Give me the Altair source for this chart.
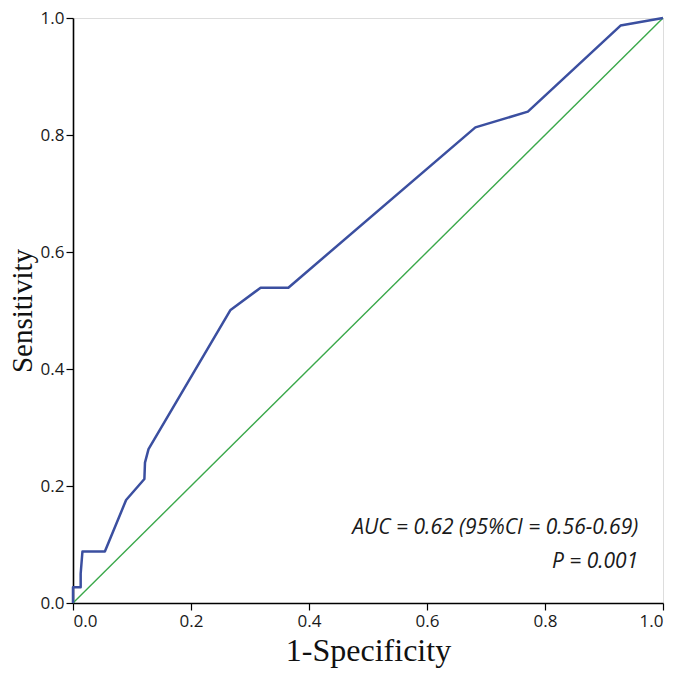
import altair as alt
import pandas as pd

fpr = [0.0, 0.0, 0.013, 0.013, 0.016, 0.054, 0.090, 0.121, 0.122, 0.128, 0.267, 0.318, 0.365, 0.682, 0.771, 0.928, 1.0]
tpr = [0.0, 0.027, 0.027, 0.050, 0.088, 0.088, 0.176, 0.212, 0.240, 0.263, 0.501, 0.539, 0.539, 0.813, 0.840, 0.987, 1.0]
diag_x = [0.0, 1.0]
diag_y = [0.0, 1.0]
ticks = [0.0, 0.2, 0.4, 0.6, 0.8, 1.0]
ann_text = ["AUC = 0.62 (95%CI = 0.56-0.69)", "P = 0.001"]
ann_x = [0.958, 0.958]
ann_y = [0.128, 0.070]

roc = pd.DataFrame({"fpr": fpr, "tpr": tpr, "order": list(range(len(fpr)))})
diag = pd.DataFrame({"fpr": diag_x, "tpr": diag_y})
ann = pd.DataFrame({"x": ann_x, "y": ann_y, "t": ann_text})

xs = alt.Scale(domain=[0, 1], nice=False, zero=False)
ys = alt.Scale(domain=[0, 1], nice=False, zero=False)

common = dict(values=ticks, format=".1f", grid=False,
              domainColor="#000", domainWidth=1.6, tickColor="#000", tickWidth=1.2,
              tickSize=7, labelFont="Open Sans", labelFontSize=17, labelColor="#1a1a1a",
              titleFont="Liberation Serif",
              titleFontWeight="normal", titleColor="#111")
xaxis = alt.Axis(title="1-Specificity", labelPadding=3, titlePadding=6, titleFontSize=32, **common)
yaxis = alt.Axis(title="Sensitivity", labelPadding=2, titlePadding=3, titleFontSize=29, **common)

diag_layer = alt.Chart(diag).mark_line(color="#3aa84a", strokeWidth=1.4).encode(
    x=alt.X("fpr:Q", scale=xs, axis=xaxis),
    y=alt.Y("tpr:Q", scale=ys, axis=yaxis),
)
roc_layer = alt.Chart(roc).mark_line(color="#3b4fa0", strokeWidth=2.5, strokeJoin="round").encode(
    x=alt.X("fpr:Q", scale=xs),
    y=alt.Y("tpr:Q", scale=ys),
    order="order:Q",
)
text_layer = alt.Chart(ann).mark_text(align="right", baseline="middle", font="Open Sans",
                                      fontSize=21, fontStyle="italic", color="#1a1a1a").encode(
    x=alt.X("x:Q", scale=xs),
    y=alt.Y("y:Q", scale=ys),
    text="t:N",
)

chart = alt.layer(diag_layer, roc_layer, text_layer).properties(
    width=590, height=585,
    autosize=alt.AutoSizeParams(type="none"),
    padding={"left": 65, "top": 10, "right": 14, "bottom": 70},
).configure_view(stroke="#8a8a8a", strokeWidth=1).configure(background="white")

chart.save("out.html", embed_options={"renderer": "svg", "actions": False})
